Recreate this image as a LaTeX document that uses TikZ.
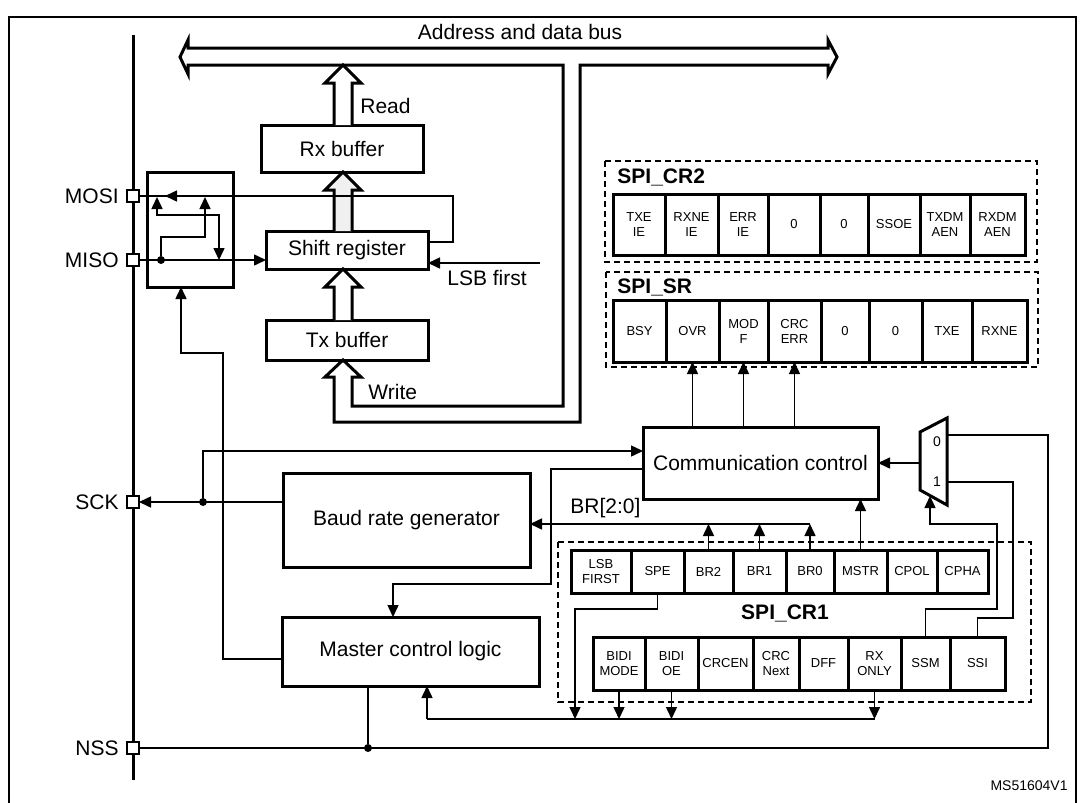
\documentclass[tikz,border=0pt]{standalone}
\usepackage{fontspec}
\setmainfont{Liberation Sans}
\usetikzlibrary{arrows.meta,calc}

\newcommand{\mainsize}{\fontsize{10.5}{12.5}\selectfont}
\newcommand{\cellsize}{\fontsize{6.5}{7.5}\selectfont}
% hollow bus arrow pointing up: foot, tip, fill
\newcommand{\fatup}[3]{%
  \draw[fat,fill=#3] ($(#1)+(-9,0)$) -- ($(#2)+(-9,18)$) -- ($(#2)+(-18,18)$) -- (#2)
    -- ($(#2)+(18,18)$) -- ($(#2)+(9,18)$) -- ($(#1)+(9,0)$);}

\begin{document}
\begin{tikzpicture}[x=0.5pt,y=-0.5pt,
  box/.style={draw,line width=1.5pt,inner sep=0pt,outer sep=0pt,font=\mainsize},
  cell/.style={draw,line width=1.5pt,inner sep=0pt,outer sep=0pt,align=center,font=\cellsize,anchor=west},
  padbox/.style={draw,fill=white,line width=0.6pt,minimum size=6pt,inner sep=0pt,outer sep=0pt},
  txt/.style={font=\mainsize,inner sep=0pt},
  dot/.style={circle,fill,inner sep=0pt,minimum size=4pt},
  wire/.style={line width=0.75pt},
  arr/.style={wire,-{Triangle[length=6pt,width=5.5pt]}},
  arrboth/.style={wire,{Triangle[length=6pt,width=5.5pt]}-{Triangle[length=6pt,width=5.5pt]}},
  fat/.style={line width=1.5pt},
  grpbox/.style={draw,line width=0.6pt,dash pattern=on 3pt off 2pt}]
\useasboundingbox (0,0) rectangle (1082,803);

% frame and pin line
\draw[line width=1pt] (9,803) -- (9,17) -- (1076,17) -- (1076,803);
\draw[line width=1.5pt] (133,35) -- (133,780);

% blocks
\node[box,minimum width=81pt,minimum height=23.5pt] (rxbuf) at (342,148.5) {Rx buffer};
\node[box,minimum width=81pt,minimum height=19pt] (shift) at (347,250) {Shift register};
\node[box,minimum width=81pt,minimum height=20pt] (txbuf) at (347,340) {Tx buffer};
\node[box,minimum width=43pt,minimum height=57.5pt] (sw) at (190,229.5) {};
\node[box,minimum width=123.5pt,minimum height=47pt] (baud) at (406.5,520) {Baud rate generator};
\node[box,minimum width=117.5pt,minimum height=36pt] (comm) at (760.5,463) {Communication control};
\node[box,minimum width=128.5pt,minimum height=34.5pt] (master) at (410.5,651.5) {Master control logic};

% pins
\node[padbox,label={[txt,label distance=4pt]left:MOSI}] (mosi) at (133,196) {};
\node[padbox,label={[txt,label distance=4pt]left:MISO}] (miso) at (133,260) {};
\node[padbox,label={[txt,label distance=4pt]left:SCK}] (sck) at (133,502) {};
\node[padbox,label={[txt,label distance=4pt]left:NSS}] (nss) at (133,748) {};

% address and data bus
\coordinate (mid) at (343,0);
\coordinate (busb) at (0,65);
\draw[fat,fill=white] (180,57) -- (188,40) -- (188,48) -- (828,48) -- (828,40) -- (837,57)
  -- (828,74) -- (828,65) -- (580,65) -- (580,422) -- (334,422) -- (334,377) -- (325,377)
  -- (mid |- txbuf.south) -- (361,377) -- (352,377) -- (352,406) -- (563,406) -- (563,65)
  -- (188,65) -- (188,74) -- cycle;
\node[txt] (buslbl) at (520,32) {Address and data bus};
\node[txt,anchor=west] (readlbl) at (360,106) {Read};
\node[txt,anchor=west] (writelbl) at (368,392) {Write};

\coordinate (rdfoot) at (mid |- rxbuf.north);
\coordinate (rdtip) at (mid |- busb);
\fatup{rdfoot}{rdtip}{white}
\coordinate (rxfoot) at (mid |- shift.north);
\coordinate (rxtip) at (mid |- rxbuf.south);
\fatup{rxfoot}{rxtip}{black!6}
\coordinate (shfoot) at (mid |- txbuf.north);
\coordinate (shtip) at (mid |- shift.south);
\fatup{shfoot}{shtip}{white}

% MOSI / MISO switching
\node[dot] (misodot) at (161,260) {};
\draw[arr] (miso.east) -- (shift.west |- miso);
\coordinate (mositip) at (165,196);
\draw[wire] (shift.east |- 0,242) -- (453,242) |- (mosi.east);
\draw[arr] (185,196) -- (mositip);
\draw[arr] (misodot) |- (205,237) -- (205,197);
\draw[arrboth] (157,197) |- (219,215) -- (219,260);
\coordinate (lsbin) at (540,263);
\draw[arr] (lsbin) -- (shift.east |- lsbin);
\node[txt,anchor=west] (lsblbl) at (447,278) {LSB first};
\draw[arr] (master.west |- 0,659) -- (223,659) |- (181,353) -- (181,0 |- sw.south);

% SCK
\node[dot] (sckdot) at (203,502) {};
\draw[arr] (baud.west |- sck) -- (sck.east);
\draw[arr] (sckdot) |- (comm.west |- 0,451);
\draw[arr] (comm.west |- 0,469) -| (551,584) -| (master.north -| 393,0);

% registers
\draw[grpbox] (605,161) rectangle (1037,262);
\node[txt,font=\mainsize\bfseries,anchor=west] (cr2lbl) at (617,177) {SPI\_CR2};
\foreach \xa/\xb/\txt [count=\i] in {613/665/{TXE\\IE},665/718/{RXNE\\IE},718/768/{ERR\\IE},
    768/820/0,820/868/0,868/920/SSOE,920/970/{TXDM\\AEN},970/1025/{RXDM\\AEN}}
  \node[cell,minimum width={(\xb-\xa)*0.5pt},minimum height=30.5pt] (cr2-\i) at (\xa,224.5) {\txt};

\draw[grpbox] (606,272) rectangle (1038,367);
\node[txt,font=\mainsize\bfseries,anchor=west] (srlbl) at (617,287) {SPI\_SR};
\foreach \xa/\xb/\txt [count=\i] in {613/666/BSY,666/719/OVR,719/768/{MOD\\F},768/821/{CRC\\ERR},
    821/869/0,869/922/0,922/972/TXE,972/1027/RXNE}
  \node[cell,minimum width={(\xb-\xa)*0.5pt},minimum height=31pt] (sr-\i) at (\xa,331) {\txt};

\draw[grpbox] (558,542) rectangle (1031,702);
\node[txt,font=\mainsize\bfseries] (cr1lbl) at (785,613) {SPI\_CR1};
\foreach \xa/\xb/\txt [count=\i] in {571/631/{LSB\\FIRST},631/684/SPE,684/733/BR2,733/786/BR1,
    786/834/BR0,834/887/MSTR,887/937/CPOL,937/988/CPHA}
  \node[cell,minimum width={(\xb-\xa)*0.5pt},minimum height=21.5pt] (cr1a-\i) at (\xa,571.5) {\txt};
\foreach \xa/\xb/\txt [count=\i] in {593/645/{BIDI\\MODE},645/698/{BIDI\\OE},698/753/CRCEN,
    753/799/{CRC\\Next},799/848/DFF,848/901/{RX\\ONLY},901/950/SSM,950/1005/SSI}
  \node[cell,minimum width={(\xb-\xa)*0.5pt},minimum height=26.5pt] (cr1b-\i) at (\xa,663.5) {\txt};

% status flags
\foreach \i in {2,3,4}
  \draw[arr] (sr-\i.south |- comm.north) -- (sr-\i.south);

% baud rate bits
\coordinate (brbus) at (0,524);
\draw[arr] (cr1a-5.north |- brbus) -- (baud.east |- brbus);
\foreach \i in {3,4,5}
  \draw[arr] (cr1a-\i.north) -- (cr1a-\i.north |- brbus);
\node[txt,anchor=west] (brlbl) at (570,508) {BR[2:0]};
\draw[arr] (cr1a-6.north) -- (cr1a-6.north |- comm.south);

% control bits to master control logic
\coordinate (ctlbus) at (0,719);
\draw[arr] (cr1a-2.south) |- (575,609) -- (575,0 |- ctlbus);
\draw[wire] (cr1b-6.south |- ctlbus) -- (427,0 |- ctlbus);
\draw[arr] (427,0 |- ctlbus) -- (427,0 |- master.south);
\foreach \i in {1,2,6}
  \draw[arr] (cr1b-\i.south) -- (cr1b-\i.south |- ctlbus);

% slave select mux
\draw[fat] (920,432) -- (947,418) -- (947,505) -- (920,490) -- cycle;
\coordinate (mux0) at (947,435);
\coordinate (mux1) at (947,482);
\coordinate (muxout) at (920,463);
\coordinate (muxsel) at (930,496);
\node[font=\fontsize{7}{8}\selectfont,inner sep=0pt] (in0) at (937,442) {0};
\node[font=\fontsize{7}{8}\selectfont,inner sep=0pt] (in1) at (937,482) {1};
\draw[arr] (muxout) -- (comm.east |- muxout);
\draw[arr] (cr1b-7.north) |- (997,609) |- (930,524) -- (muxsel);
\draw[wire] (cr1b-8.north) |- (1013,618) |- (mux1);

% NSS
\node[dot] (nssdot) at (368,748) {};
\draw[wire] (master.south -| nssdot) -- (nssdot);
\draw[wire] (nss.east) -- (1048,748) |- (mux0);

\node[font=\fontsize{7}{8}\selectfont,anchor=east,inner sep=0pt] (msid) at (1068,786) {MS51604V1};
\end{tikzpicture}
\end{document}
